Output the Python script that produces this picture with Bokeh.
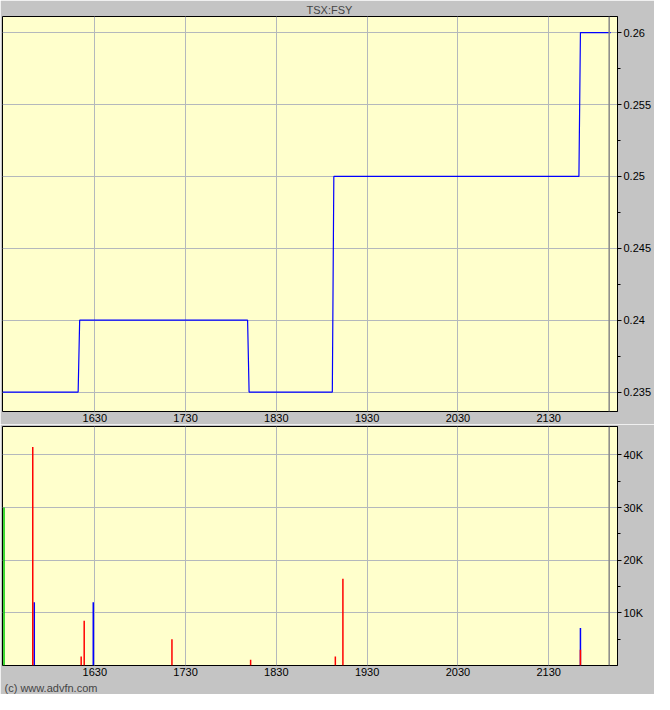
from bokeh.plotting import figure
from bokeh.layouts import column
from bokeh.models import Range1d, FixedTicker, Span, Title
from bokeh.embed import file_html
from bokeh.resources import INLINE

symbol = "TSX:FSY"
credit = "(c) www.advfn.com"

# times are minutes after midnight
price_times = [929, 979, 980, 1091, 1092, 1147, 1148, 1310, 1311, 1331]
price_values = [0.235, 0.235, 0.24, 0.24, 0.235, 0.235, 0.25, 0.25, 0.26, 0.26]

green_times = [930]
green_vols = [30000]
blue_times = [950, 989, 1311]
blue_vols = [12000, 12000, 7100]
red_times = [949, 981, 983, 1041, 1093, 1149, 1154, 1311]
red_vols = [41500, 1700, 8500, 5000, 1100, 1700, 16500, 3000]

time_labels = ["1630", "1730", "1830", "1930", "2030", "2130"]
price_ticks = [0.235, 0.24, 0.245, 0.25, 0.255, 0.26]
vol_ticks = [10000, 20000, 30000, 40000]
vol_labels = ["10K", "20K", "30K", "40K"]
now_time = 1330

FONT = "Liberation Sans"
GRAY = "#c4c4c4"
PAPER = "#ffffcc"
GRID = "#b4b8bc"

time_ticks = [int(t[:2]) * 60 + int(t[2:]) for t in time_labels]
x_range = Range1d(929, 1335.5)


def style(p):
    p.background_fill_color = PAPER
    p.border_fill_color = GRAY
    p.outline_line_color = "black"
    p.outline_line_alpha = 1
    p.xgrid.grid_line_color = GRID
    p.ygrid.grid_line_color = GRID
    p.xaxis.ticker = FixedTicker(ticks=time_ticks, minor_ticks=[])
    p.xaxis.major_label_overrides = dict(zip(time_ticks, time_labels))
    p.xaxis.major_tick_out = 0
    p.xaxis.major_tick_in = 0
    p.xaxis.axis_line_color = None
    p.xaxis.major_label_standoff = 2
    for ax in (p.xaxis, p.yaxis):
        ax.major_label_text_font = FONT
        ax.major_label_text_font_size = "11px"
        ax.major_label_text_color = "black"
    p.yaxis.axis_line_color = "black"
    p.yaxis.major_tick_out = 4
    p.yaxis.major_tick_in = 0
    p.yaxis.minor_tick_out = 3
    p.yaxis.minor_tick_in = 0
    p.yaxis.major_label_standoff = 2
    p.add_layout(Span(location=now_time, dimension="height",
                      line_color="#888888", line_width=1.5))


top = figure(width=654, height=424, x_range=x_range,
             y_range=Range1d(0.23365, 0.26112), y_axis_location="right",
             output_backend="svg", toolbar_location=None,
             min_border_left=2, min_border_right=36,
             min_border_top=0, min_border_bottom=0)
top.title.text = symbol
top.title.align = "left"
top.title.offset = 304
top.title.text_font = FONT
top.title.text_font_size = "11px"
top.title.text_font_style = "normal"
top.title.standoff = 2
style(top)
minor_price = [t + 0.0025 for t in price_ticks]
top.yaxis.ticker = FixedTicker(ticks=price_ticks, minor_ticks=minor_price)
top.yaxis.major_label_overrides = {t: f"{t:g}" for t in price_ticks}
top.line(price_times, price_values, line_color="#0000ff", line_width=1.2)

bottom = figure(width=654, height=270, x_range=x_range,
                y_range=Range1d(0, 45400), y_axis_location="right",
                output_backend="svg", toolbar_location=None,
                min_border_left=2, min_border_right=36,
                min_border_top=2, min_border_bottom=0)
style(bottom)
minor_vol = [t - 5000 for t in vol_ticks]
bottom.yaxis.ticker = FixedTicker(ticks=vol_ticks, minor_ticks=minor_vol)
bottom.yaxis.major_label_overrides = dict(zip(vol_ticks, vol_labels))
bottom.segment(blue_times, [0] * len(blue_times), blue_times, blue_vols,
               line_color="#0000ff", line_width=1.5)
bottom.segment(red_times, [0] * len(red_times), red_times, red_vols,
               line_color="#ff0000", line_width=1.5)
bottom.segment(green_times, [0] * len(green_times), green_times, green_vols,
               line_color="#00cc00", line_width=1.5)
bottom.add_layout(Title(text=credit, align="left", text_font=FONT,
                        text_font_size="11px", text_font_style="normal",
                        offset=2, standoff=2), "below")

layout = column(top, bottom, spacing=0)
open("out.html", "w").write(file_html(layout, INLINE))
